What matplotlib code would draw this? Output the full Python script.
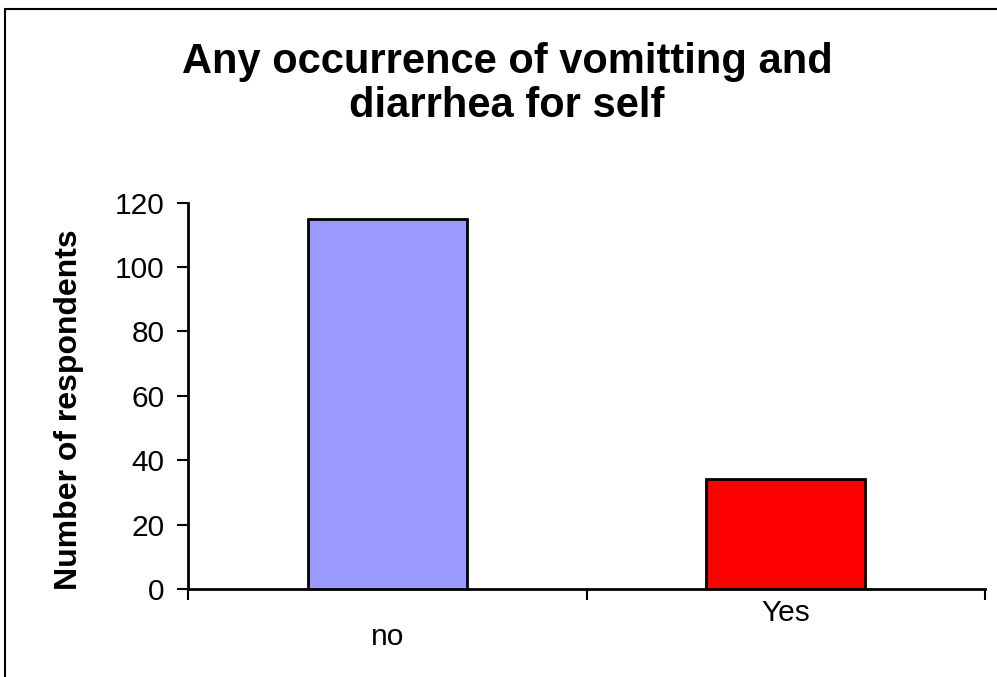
import matplotlib
matplotlib.use("Agg")
import matplotlib.pyplot as plt
from matplotlib.patches import Rectangle

categories = ["no", "Yes"]
values = [115, 34]
colors = ["#9999FF", "#FF0000"]
yticks = [0, 20, 40, 60, 80, 100, 120]
title = "Any occurrence of vomitting and\ndiarrhea for self"
ylabel = "Number of respondents"

plt.rcParams['font.family'] = ['Liberation Sans', 'DejaVu Sans']

fig = plt.figure(figsize=(9.97, 6.77), dpi=100)
ax = fig.add_axes([188/997, 1-589/677, (985-188)/997, (589-202.5)/677])

x = list(range(len(categories)))
ax.bar(x, values, width=0.4, color=colors, edgecolor="black", linewidth=2, zorder=3)

ax.set_xlim(-0.5, len(categories)-0.5)
ax.set_ylim(0, 120)
ax.set_yticks(yticks)
ax.set_yticklabels([str(t) for t in yticks], fontsize=21.5)
ax.set_xticks([i - 0.5 for i in range(len(categories)+1)])
ax.set_xticklabels([])
ax.tick_params(axis='y', direction='out', length=8, width=1.5, pad=9)
ax.tick_params(axis='x', direction='out', length=8, width=1.5)

for s in ['top', 'right']:
    ax.spines[s].set_visible(False)
for s in ['left', 'bottom']:
    ax.spines[s].set_linewidth(2)

# staggered category labels
offsets = [48, 24]
for i, (c, off) in enumerate(zip(categories, offsets)):
    ax.annotate(c, xy=(i, 0), xycoords=('data', 'axes fraction'),
                xytext=(0, -off), textcoords='offset pixels',
                ha='center', va='center', fontsize=21.5)

ax.set_ylabel(ylabel, fontsize=23, fontweight='bold')
ax.yaxis.set_label_coords(-(188-84)/797, (589-410)/386.5)
fig.text(507/997, 1-84/677, title, ha='center', va='center',
         fontsize=30, fontweight='bold', linespacing=1.1)

fig.patches.append(Rectangle((5/997, -0.1), 1.1, 1-9/677+0.1,
                             transform=fig.transFigure, fill=False,
                             edgecolor='black', linewidth=1.5, clip_on=False))

fig.savefig("out.png", dpi=100)
